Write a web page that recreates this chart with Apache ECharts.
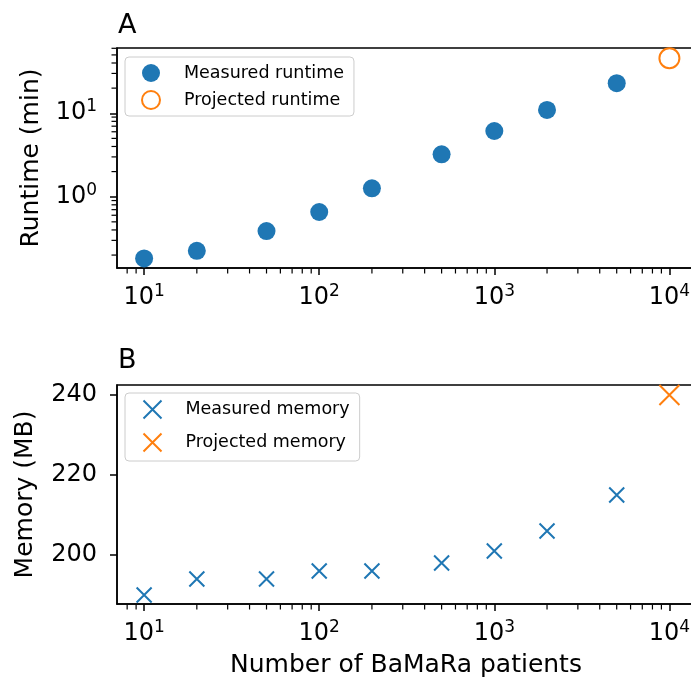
<!DOCTYPE html>
<html>
<head>
<meta charset="utf-8">
<script src="https://cdn.jsdelivr.net/npm/echarts@6/dist/echarts.min.js"></script>
<style>
  html, body { margin: 0; padding: 0; background: #fff; }
  #chart { width: 691px; height: 681px; }
</style>
</head>
<body>
<div id="chart"></div>
<script>
  // patients on the x axis
  const patients = [10, 20, 50, 100, 200, 500, 1000, 2000, 5000];
  const projectedPatients = 10000;

  // runtime in minutes
  const runtimeMeasured = [0.182, 0.225, 0.388, 0.656, 1.26, 3.22, 6.13, 10.95, 22.9];
  const runtimeProjected = 45.6;

  // memory in MB
  const memoryMeasured = [190, 194, 194, 196, 196, 198, 201, 206, 215];
  const memoryProjected = 240;

  // ticks
  const xMajorTicks = [10, 100, 1000, 10000];
  const xMinorTicks = [8, 9, 20, 30, 40, 50, 60, 70, 80, 90, 200, 300, 400, 500, 600, 700, 800, 900,
    2000, 3000, 4000, 5000, 6000, 7000, 8000, 9000];
  const runtimeMajorTicks = [1, 10];
  const runtimeMinorTicks = [0.2, 0.3, 0.4, 0.5, 0.6, 0.7, 0.8, 0.9, 2, 3, 4, 5, 6, 7, 8, 9, 20, 30, 40, 50, 60];
  const memoryTicks = [200, 220, 240];

  const blue = "#1f77b4";
  const orange = "#ff7f0e";
  const font = "DejaVu Sans";
  const crossPath = "path://M0,0L10,10M10,0L0,10";

  const xRange = { min: 7, max: 14000 };
  const runtimeRange = { min: 0.14, max: 60.5 };
  const memoryRange = { min: 187.75, max: 242.5 };

  const powLabel = v => "{b|10}{s|" + Math.round(Math.log10(v)) + "}";
  const powRich = {
    b: { fontSize: 24, fontFamily: font, color: "#000", lineHeight: 30 },
    s: { fontSize: 17, fontFamily: font, color: "#000", verticalAlign: "top", lineHeight: 17 }
  };

  const majorX = gridIndex => ({
    type: "log",
    gridIndex,
    position: "bottom",
    ...xRange,
    axisLine: { show: true, lineStyle: { color: "#000", width: 1.5 } },
    axisTick: { show: true, length: 7, customValues: xMajorTicks, lineStyle: { color: "#000", width: 1.5 } },
    axisLabel: { customValues: xMajorTicks, margin: 15, formatter: powLabel, rich: powRich },
    splitLine: { show: false }
  });

  // short minor ticks: thin rect symbols placed through the axis scales
  const minorTicks = (xAxisIndex, yAxisIndex, points, vertical) => ({
    type: "scatter",
    xAxisIndex,
    yAxisIndex,
    clip: false,
    silent: true,
    symbol: "rect",
    symbolSize: vertical ? [1.2, 5] : [5, 1.2],
    symbolOffset: vertical ? [0, 3] : [-3, 0],
    itemStyle: { color: "#000", opacity: 1 },
    data: points
  });

  const legendBox = {
    orient: "vertical",
    left: 125,
    itemWidth: 18,
    itemHeight: 18,
    backgroundColor: "rgba(255,255,255,0.8)",
    borderColor: "#cccccc",
    borderWidth: 1,
    borderRadius: 4,
    textStyle: { fontSize: 17.5, fontFamily: font, color: "#000", lineHeight: 18, padding: [0, 0, 0, 19] }
  };

  const option = {
    animation: false,
    textStyle: { fontFamily: font },
    title: [
      { text: "A", left: 113, top: 7, textStyle: { fontSize: 27, fontWeight: "normal", color: "#000", fontFamily: font } },
      { text: "B", left: 113, top: 342, textStyle: { fontSize: 27, fontWeight: "normal", color: "#000", fontFamily: font } }
    ],
    legend: [
      { ...legendBox, top: 57, padding: [7, 10, 6, 16], itemGap: 8, data: ["Measured runtime", "Projected runtime"] },
      { ...legendBox, top: 393, padding: [5, 10, 7, 16], itemGap: 10, data: ["Measured memory", "Projected memory"] }
    ],
    grid: [
      { left: 117, top: 48, width: 578, height: 220, outerBoundsMode: "none", show: true, borderColor: "#000", borderWidth: 1.5 },
      { left: 117, top: 385, width: 578, height: 219, outerBoundsMode: "none", show: true, borderColor: "#000", borderWidth: 1.5 }
    ],
    xAxis: [
      majorX(0),
      {
        ...majorX(1),
        name: "Number of BaMaRa patients",
        nameLocation: "middle",
        nameGap: 49,
        nameMoveOverlap: false,
        nameTextStyle: { fontSize: 25, color: "#000", fontFamily: font }
      }
    ],
    yAxis: [
      {
        type: "log",
        gridIndex: 0,
        position: "left",
        ...runtimeRange,
        name: "Runtime (min)",
        nameLocation: "middle",
        nameGap: 73,
        nameMoveOverlap: false,
        nameTextStyle: { fontSize: 25, color: "#000", fontFamily: font },
        axisLine: { show: true, lineStyle: { color: "#000", width: 1.5 } },
        axisTick: { show: true, length: 7, customValues: runtimeMajorTicks, lineStyle: { color: "#000", width: 1.5 } },
        axisLabel: { customValues: runtimeMajorTicks, margin: 20, formatter: powLabel, rich: powRich },
        splitLine: { show: false }
      },
      {
        type: "value",
        gridIndex: 1,
        position: "left",
        ...memoryRange,
        name: "Memory (MB)",
        nameLocation: "middle",
        nameGap: 79,
        nameMoveOverlap: false,
        nameTextStyle: { fontSize: 25, color: "#000", fontFamily: font },
        axisLine: { show: true, lineStyle: { color: "#000", width: 1.5 } },
        axisTick: { show: true, length: 7, customValues: memoryTicks, lineStyle: { color: "#000", width: 1.5 } },
        axisLabel: { customValues: memoryTicks, margin: 20, fontSize: 24, color: "#000", fontFamily: font },
        splitLine: { show: false }
      }
    ],
    series: [
      minorTicks(0, 0, xMinorTicks.map(v => [v, runtimeRange.min]), true),
      minorTicks(1, 1, xMinorTicks.map(v => [v, memoryRange.min]), true),
      minorTicks(0, 0, runtimeMinorTicks.map(v => [xRange.min, v]), false),
      {
        name: "Measured runtime",
        type: "scatter",
        xAxisIndex: 0,
        yAxisIndex: 0,
        symbol: "circle",
        symbolSize: 18,
        itemStyle: { color: blue, opacity: 1 },
        data: patients.map((p, i) => [p, runtimeMeasured[i]])
      },
      {
        name: "Projected runtime",
        type: "scatter",
        xAxisIndex: 0,
        yAxisIndex: 0,
        symbol: "circle",
        symbolSize: 20,
        itemStyle: { color: "#fff", borderColor: orange, borderWidth: 2, opacity: 1 },
        data: [[projectedPatients, runtimeProjected]]
      },
      {
        name: "Measured memory",
        type: "scatter",
        xAxisIndex: 1,
        yAxisIndex: 1,
        symbol: crossPath,
        symbolSize: 15,
        itemStyle: { color: "none", borderColor: blue, borderWidth: 2, opacity: 1 },
        data: patients.map((p, i) => [p, memoryMeasured[i]])
      },
      {
        name: "Projected memory",
        type: "scatter",
        xAxisIndex: 1,
        yAxisIndex: 1,
        symbol: crossPath,
        symbolSize: 20,
        itemStyle: { color: "none", borderColor: orange, borderWidth: 2, opacity: 1 },
        data: [[projectedPatients, memoryProjected]]
      }
    ]
  };

  const chart = echarts.init(document.getElementById("chart"));
  chart.setOption(option);
  window.addEventListener("resize", () => chart.resize());
</script>
</body>
</html>
